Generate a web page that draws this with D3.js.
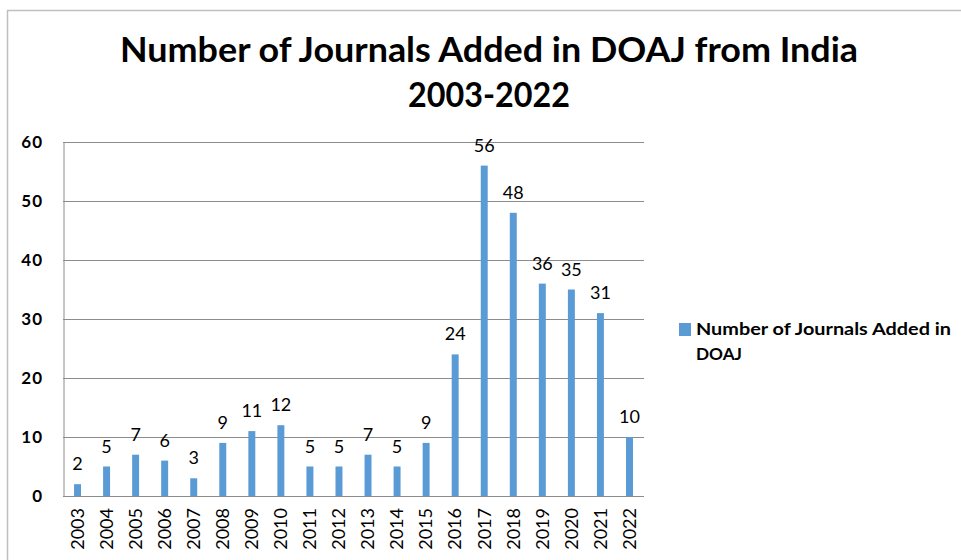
<!DOCTYPE html>
<html>
<head>
<meta charset="utf-8">
<script src="https://cdn.jsdelivr.net/npm/d3@7"></script>
<style>
  body { margin: 0; background: #fff; }
  text { font-family: Lato, "Open Sans", sans-serif; }
</style>
</head>
<body>
<div id="chart"></div>
<script>
// ----------------------------------------------------------------
// Data
// ----------------------------------------------------------------

const years = ["2003","2004","2005","2006","2007","2008","2009","2010","2011","2012",
  "2013","2014","2015","2016","2017","2018","2019","2020","2021","2022"];
const journalsAdded = [2,5,7,6,3,9,11,12,5,5,7,5,9,24,56,48,36,35,31,10];
const yTicks = [0,10,20,30,40,50,60];
const titleLines = ["Number of Journals Added in DOAJ from India", "2003-2022"];
const legendLines = ["Number of Journals Added in", "DOAJ"];

// ----------------------------------------------------------------
// Chart
// ----------------------------------------------------------------

const width = 961, height = 560;
const plot = { left: 63, right: 644, top: 142, bottom: 496 };
const barColor = "#5b9bd5";

const svg = d3.select("#chart").append("svg")
  .attr("width", width)
  .attr("height", height);

// outer chart border
svg.append("path")
  .attr("d", "M7.5," + height + "V10.5H" + width)
  .attr("fill", "none")
  .attr("stroke", "#bfbfbf")
  .attr("stroke-width", 1.5);

const x = d3.scaleBand()
  .domain(years)
  .range([plot.left, plot.right])
  .paddingInner(0.76)
  .paddingOuter(0.38);

const y = d3.scaleLinear()
  .domain([0, 60])
  .range([plot.bottom, plot.top]);

// gridlines
svg.append("g")
  .selectAll("line")
  .data(yTicks)
  .join("line")
  .attr("x1", plot.left)
  .attr("x2", plot.right)
  .attr("y1", d => Math.round(y(d)) + 0.5)
  .attr("y2", d => Math.round(y(d)) + 0.5)
  .attr("stroke", "#8c8c8c")
  .attr("stroke-width", 1);

// y axis
const yAxis = svg.append("g")
  .attr("transform", "translate(" + plot.left + ",0)")
  .call(d3.axisLeft(y).tickValues(yTicks).tickSize(0).tickPadding(20));
yAxis.select(".domain").attr("stroke", "#8c8c8c").attr("transform", "translate(0.5,0)");
yAxis.selectAll("text")
  .attr("font-size", 17)
  .attr("font-weight", "bold")
  .attr("letter-spacing", 1)
  .attr("fill", "#000")
  .attr("font-family", "Lato, sans-serif");

// x axis
const xAxis = svg.append("g")
  .attr("transform", "translate(0," + plot.bottom + ")")
  .call(d3.axisBottom(x).tickSize(0));
xAxis.select(".domain").remove();
xAxis.selectAll("text")
  .attr("font-size", 18)
  .attr("fill", "#000")
  .attr("font-family", "Lato, sans-serif")
  .attr("transform", "rotate(-90)")
  .attr("text-anchor", "end")
  .attr("dx", "-12")
  .attr("dy", "0.35em")
  .attr("x", 0)
  .attr("y", 0);

// bars
svg.append("g")
  .selectAll("rect")
  .data(journalsAdded)
  .join("rect")
  .attr("x", (d, i) => x(years[i]))
  .attr("width", x.bandwidth())
  .attr("y", d => y(d))
  .attr("height", d => y(0) - y(d))
  .attr("fill", barColor);

// data labels
svg.append("g")
  .selectAll("text")
  .data(journalsAdded)
  .join("text")
  .attr("x", (d, i) => x(years[i]) + x.bandwidth() / 2)
  .attr("y", d => y(d) - 14)
  .attr("text-anchor", "middle")
  .attr("font-size", 18)
  .attr("fill", "#000")
  .text(d => d);

// title
const titleWidths = [738, 162];
svg.append("g")
  .selectAll("text")
  .data(titleLines)
  .join("text")
  .attr("x", 489)
  .attr("y", (d, i) => 62 + i * 45)
  .attr("text-anchor", "middle")
  .attr("font-size", 34)
  .attr("font-weight", "bold")
  .attr("fill", "#000")
  .attr("textLength", (d, i) => titleWidths[i])
  .attr("lengthAdjust", "spacingAndGlyphs")
  .text(d => d);

// legend
const legend = svg.append("g");
legend.append("rect")
  .attr("x", 679)
  .attr("y", 323)
  .attr("width", 12)
  .attr("height", 13)
  .attr("fill", barColor);
const legendWidths = [255, 46];
legend.selectAll("text")
  .data(legendLines)
  .join("text")
  .attr("x", 696)
  .attr("y", (d, i) => 335 + i * 25)
  .attr("font-size", 17)
  .attr("font-weight", "bold")
  .attr("fill", "#000")
  .attr("textLength", (d, i) => legendWidths[i])
  .attr("lengthAdjust", "spacingAndGlyphs")
  .text(d => d);
</script>
</body>
</html>
